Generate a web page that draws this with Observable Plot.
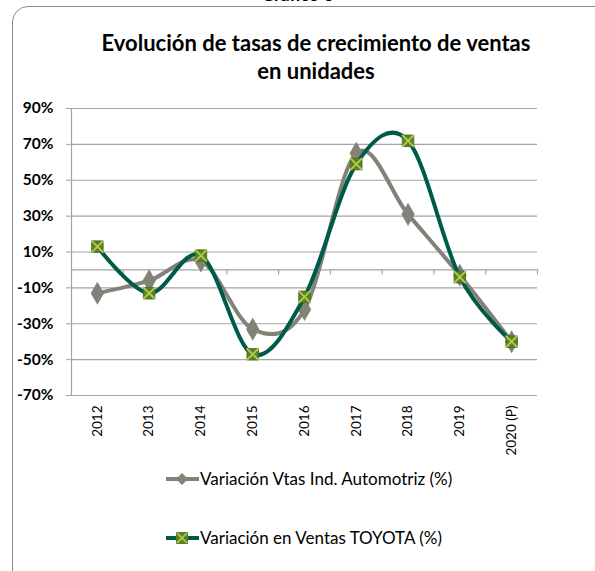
<!DOCTYPE html>
<html><head><meta charset="utf-8">
<script src="https://cdn.jsdelivr.net/npm/d3@7"></script>
<script src="https://cdn.jsdelivr.net/npm/@observablehq/plot@0.6"></script>
<style>
html,body{margin:0;padding:0;background:#fff;overflow:hidden;width:595px;height:571px}
#wrap{position:relative;width:595px;height:571px;font-family:Lato,"Open Sans",sans-serif}
#frame{position:absolute;left:12px;top:6px;width:640px;height:620px;border:1px solid #8c8c8c;border-radius:16px;box-sizing:border-box}
#sup{position:absolute;left:0;width:595px;top:-17px;text-align:center;font-weight:bold;font-size:18px;color:#000}
#title{position:absolute;left:0;width:632px;top:29px;text-align:center;font-weight:bold;font-size:22px;line-height:28px;color:#000}
#chart{position:absolute;left:0;top:0}
.leg{position:absolute;left:165px;font-size:17px;color:#000;display:flex;align-items:center}
.leg svg{display:block}
</style></head><body>
<div id="wrap">
<div id="frame"></div>
<div id="sup">Gráfico 6</div>
<div id="title">Evolución de tasas de crecimiento de ventas<br>en unidades</div>
<div id="chart"></div>
<div class="leg" style="top:468px"><svg width="35" height="20"><line x1="1" y1="10" x2="34" y2="10" stroke="#828278" stroke-width="4"/><path d="M17,4 L23,10 L17,16 L11,10 Z" fill="#828278"/></svg><span>Variación Vtas Ind. Automotriz (%)</span></div>
<div class="leg" style="top:527px"><svg width="35" height="20"><line x1="1" y1="10" x2="34" y2="10" stroke="#005a4a" stroke-width="4"/><rect x="11" y="4" width="12" height="12" fill="#5b7f2a"/><path d="M12,5 L22,15 M22,5 L12,15" stroke="#b4cf45" stroke-width="1.6"/></svg><span>Variación en Ventas TOYOTA (%)</span></div>
</div>
<script>
const years = ["2012","2013","2014","2015","2016","2017","2018","2019","2020 (P)"];
const industria = [-13, -6, 5, -33, -22, 65, 31, -3, -40];
const toyota = [13, -13, 8, -47, -15, 59, 72, -4, -40];
const yTicks = [-70, -50, -30, -10, 10, 30, 50, 70, 90];

const ind = years.map((y, i) => ({i: i + 0.5, v: industria[i]}));
const toy = years.map((y, i) => ({i: i + 0.5, v: toyota[i]}));
const bounds = d3.range(0, years.length + 1);
const smooth = d3.curveCardinal.tension(0);

const plot = Plot.plot({
  width: 595, height: 571,
  marginLeft: 71, marginRight: 58, marginTop: 108, marginBottom: 176,
  style: {fontFamily: "Lato, 'Open Sans', sans-serif", background: "transparent"},
  x: {domain: [0, years.length]},
  y: {domain: [-70, 90]},
  marks: [
    Plot.ruleY(yTicks, {stroke: "#a3a3a3", strokeWidth: 1.2}),
    Plot.ruleX([0], {y1: -70, y2: 90, stroke: "#a3a3a3", strokeWidth: 1.2}),
    Plot.ruleY([0], {stroke: "#a3a3a3", strokeWidth: 1.2}),
    Plot.ruleX(bounds.slice(1), {y1: 0, y2: 0, insetBottom: -5, stroke: "#a3a3a3", strokeWidth: 1.2}),
    Plot.axisY({ticks: yTicks, tickFormat: d => d + "%", tickSize: 5, tickPadding: 13, fontSize: 15.5, fontWeight: "bold", stroke: "#a3a3a3", label: null}),
    Plot.axisX({ticks: years.map((y, i) => i + 0.5), tickFormat: d => years[Math.floor(d)], tickRotate: -90, tickSize: 0, tickPadding: 10, fontSize: 13.5, label: null}),
    Plot.line(ind, {x: "i", y: "v", stroke: "#828278", strokeWidth: 4, curve: smooth}),
    Plot.dot(ind, {x: "i", y: "v", symbol: "diamond", r: 7, fill: "#828278"}),
    Plot.line(toy, {x: "i", y: "v", stroke: "#005a4a", strokeWidth: 4, curve: smooth}),
    Plot.dot(toy, {x: "i", y: "v", symbol: "square", r: 6.5, fill: "#5b7f2a", stroke: "#3f6b2a", strokeWidth: 0.8}),
    Plot.dot(toy, {x: "i", y: "v", symbol: "times", r: 5.5, stroke: "#b4cf45", strokeWidth: 1.8})
  ]
});
document.getElementById("chart").appendChild(plot);
</script>
</body></html>
